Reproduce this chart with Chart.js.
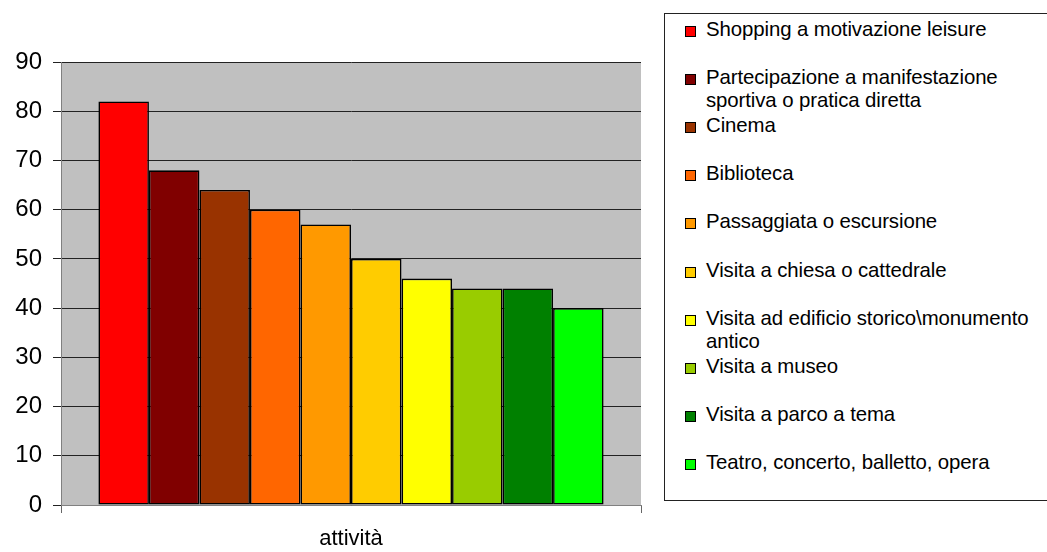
<!DOCTYPE html>
<html>
<head>
<meta charset="utf-8">
<script src="https://cdn.jsdelivr.net/npm/chart.js@4.4.1/dist/chart.umd.min.js"></script>
<style>
  html, body { margin: 0; padding: 0; background: #ffffff; }
  #wrap { position: relative; width: 1047px; height: 552px; overflow: hidden; }
  #chart { position: absolute; left: 0; top: 0; }
  #legend {
    position: absolute; left: 664px; top: 13px; width: 390px; height: 488px;
    border: 1px solid #222; box-sizing: border-box; background: #fff;
    font-family: "Liberation Sans", Arial, sans-serif; font-size: 20.4px; color: #000;
  }
  .item { position: absolute; left: 20px; width: 370px; line-height: 23px; }
  .swatch {
    position: absolute; left: 0; top: 8px; width: 9px; height: 9px;
    border: 1px solid #000;
  }
  .txt { margin-left: 21px; letter-spacing: -0.1px; }
</style>
</head>
<body>
<div id="wrap">
  <canvas id="chart" width="1047" height="552"></canvas>
  <div id="legend"></div>
</div>
<script>
// Activities and the share of respondents for each one
const categories = ["attività"];
const seriesNames = [
  "Shopping a motivazione leisure",
  "Partecipazione a manifestazione sportiva o pratica diretta",
  "Cinema",
  "Biblioteca",
  "Passaggiata o escursione",
  "Visita a chiesa o cattedrale",
  "Visita ad edificio storico\\monumento antico",
  "Visita a museo",
  "Visita a parco a tema",
  "Teatro, concerto, balletto, opera"
];
const seriesValues = [82, 68, 64, 60, 57, 50, 46, 44, 44, 40];
const seriesColors = [
  "#FF0000", "#800000", "#993300", "#FF6600", "#FF9900",
  "#FFCC00", "#FFFF00", "#99CC00", "#008000", "#00FF00"
];
const yTicks = [0, 10, 20, 30, 40, 50, 60, 70, 80, 90];

// Grey plot background
const plotBackground = {
  id: "plotBackground",
  beforeDraw(chart) {
    const { ctx, chartArea: a } = chart;
    ctx.save();
    ctx.fillStyle = "#C0C0C0";
    ctx.fillRect(a.left, a.top, a.right - a.left, a.bottom - a.top);
    ctx.restore();
  }
};

const datasets = seriesNames.map((name, i) => ({
  label: name,
  data: [seriesValues[i]],
  backgroundColor: seriesColors[i],
  borderColor: "#000000",
  borderWidth: 1.6,
  borderSkipped: false,
  categoryPercentage: 0.871,
  barPercentage: 1.0
}));

new Chart(document.getElementById("chart"), {
  type: "bar",
  data: { labels: categories, datasets },
  plugins: [plotBackground],
  options: {
    responsive: false,
    animation: false,
    layout: { padding: { left: 0, top: 62, right: 406, bottom: 0 } },
    plugins: { legend: { display: false }, tooltip: { enabled: false } },
    scales: {
      x: {
        offset: true,
        grid: { display: true, offset: true, drawOnChartArea: false, color: "#666", tickLength: 8 },
        border: { display: true, color: "#808080", width: 1 },
        ticks: { display: false },
        title: {
          display: true, text: "attività", color: "#000",
          font: { family: "Liberation Sans", size: 22 }, padding: { top: 15, bottom: 0 }
        },
        afterFit(s) { s.height = 47; }
      },
      y: {
        min: 0, max: 90,
        afterBuildTicks(s) { s.ticks = yTicks.map(v => ({ value: v })); },
        grid: { color: "#222", lineWidth: 1, tickLength: 8 },
        border: { display: true, color: "#808080", width: 1 },
        ticks: {
          color: "#000", padding: 11,
          font: { family: "Liberation Sans", size: 24 }
        },
        afterFit(s) { s.width = 61; }
      }
    }
  }
});

// Legend box on the right
const legend = document.getElementById("legend");
seriesNames.forEach((name, i) => {
  const item = document.createElement("div");
  item.className = "item";
  item.style.top = (4 + i * 48.1) + "px";
  const sw = document.createElement("div");
  sw.className = "swatch";
  sw.style.background = seriesColors[i];
  const t = document.createElement("div");
  t.className = "txt";
  t.textContent = name;
  item.appendChild(sw);
  item.appendChild(t);
  legend.appendChild(item);
});
</script>
</body>
</html>
